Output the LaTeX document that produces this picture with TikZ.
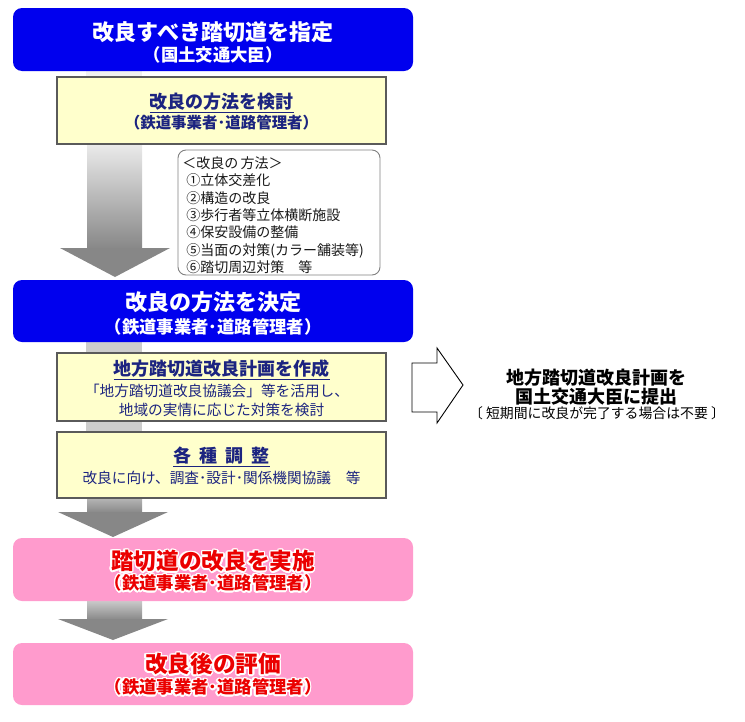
\documentclass[tikz,border=0pt]{standalone}
\usepackage{fontspec}
\setmainfont{Noto Sans CJK JP}
\usepackage{contour}
\contourlength{1.2pt}
\contournumber{16}
\newdimen\px \px=0.75pt
\definecolor{bblue}{RGB}{0,0,238}
\definecolor{yfill}{RGB}{255,255,204}
\definecolor{ybord}{RGB}{90,90,90}
\definecolor{navy}{RGB}{28,36,128}
\definecolor{pinkc}{RGB}{255,155,205}
\definecolor{redt}{RGB}{235,0,0}
\definecolor{arrgray}{RGB}{135,135,135}
\definecolor{lightbar}{RGB}{205,205,205}
\tikzset{
  bluebox/.style={fill=bblue, rounded corners=9\px, minimum width=400\px, minimum height=63\px, inner sep=0pt},
  pinkbox/.style={fill=pinkc, rounded corners=9\px, minimum width=400\px, minimum height=63\px, inner sep=0pt},
  ybox/.style={fill=yfill, draw=ybord, line width=2\px, minimum width=329\px, inner sep=0pt},
  methbox/.style={fill=white, draw=gray, line width=0.9\px, rounded corners=8\px, minimum width=202\px, minimum height=125\px, inner sep=0pt},
  wtitle/.style={text=white, font=\fontsize{16.5pt}{18pt}\selectfont\bfseries, inner sep=0pt},
  wsub/.style={text=white, font=\fontsize{13pt}{15pt}\selectfont\bfseries, inner sep=0pt},
  ytitle/.style={text=navy, font=\fontsize{13.5pt}{15pt}\selectfont\bfseries, inner sep=0pt},
  ysub/.style={text=navy, font=\fontsize{11.6pt}{13pt}\selectfont\bfseries, inner sep=0pt},
  ytxt/.style={text=navy, font=\fontsize{11pt}{13pt}\selectfont, inner sep=0pt},
  rtitle/.style={font=\fontsize{17pt}{18pt}\selectfont\bfseries, inner sep=0pt},
  rsub/.style={font=\fontsize{13pt}{15pt}\selectfont\bfseries, inner sep=0pt},
  btxt/.style={text=black, font=\fontsize{13.5pt}{15pt}\selectfont\bfseries, inner sep=0pt},
  smalltxt/.style={text=black, font=\fontsize{10.4pt}{12pt}\selectfont, inner sep=0pt},
  methtxt/.style={text=black!90, font=\fontsize{10.5pt}{13.1pt}\selectfont, align=left, inner sep=0pt, anchor=north west},
}
\newcommand{\redc}[1]{\contour{white}{\textcolor{redt}{#1}}}
\begin{document}
\begin{tikzpicture}[x=0.75pt,y=-0.75pt]
\useasboundingbox (0,0) rectangle (745,721);
% light bars between boxes
\fill[gray!12] (86,70) rectangle (142,78);
\fill[lightbar] (86,341) rectangle (142,353);
\fill[lightbar] (86,420) rectangle (142,432);
% big arrow 1
\shade[top color=gray!15, bottom color=arrgray] (87,143) rectangle (142,249);
\fill[arrgray] (60,248) -- (170,248) -- (115,277) -- cycle;
% arrow 2
\shade[top color=gray!55, bottom color=arrgray] (87,497) rectangle (142,513);
\fill[arrgray] (58,512) -- (168,512) -- (113,537) -- cycle;
% arrow 3
\shade[top color=gray!40, bottom color=arrgray] (87,600) rectangle (142,620);
\fill[arrgray] (58,619) -- (168,619) -- (113,640) -- cycle;

% box 1
\node[bluebox] (b1) at (213,39.5) {};
\node[wtitle] (b1t) at (213,32) {改良すべき踏切道を指定};
\node[wsub] (b1s) at (213,55) {（国土交通大臣）};
% box 2
\node[ybox, minimum height=67\px] (b2) at (221.5,110.5) {};
\node[ytitle] (b2t) at (221.5,103) {\underline{改良の方法を検討}};
\node[ysub] (b2s) at (221.5,123) {（鉄道事業者･道路管理者）};
% methods box
\node[methbox] (mb) at (279,212.5) {};
\node[methtxt] (mt) at (182,156) {＜改良の\,方法＞\\
\hspace{4\px}①立体交差化\\
\hspace{4\px}②構造の改良\\
\hspace{4\px}③歩行者等立体横断施設\\
\hspace{4\px}④保安設備の整備\\
\hspace{4\px}⑤当面の対策(カラー舗装等)\\
\hspace{4\px}⑥踏切周辺対策　等};
% box 3
\node[bluebox, minimum height=62\px] (b3) at (213,311) {};
\node[wtitle] (b3t) at (213,302) {改良の方法を決定};
\node[wsub] (b3s) at (213,327) {（鉄道事業者･道路管理者）};
% box 4
\node[ybox, minimum height=68\px] (b4) at (221.5,386.5) {};
\node[ytitle] (b4t) at (221.5,370) {\underline{地方踏切道改良計画を作成}};
\node[ytxt] (b4a) at (217,391) {「地方踏切道改良協議会」等を活用し、};
\node[ytxt] (b4b) at (221.5,410) {地域の実情に応じた対策を検討};
% box 5
\node[ybox, minimum height=66\px] (b5) at (221.5,464.5) {};
\node[ytitle] (b5t) at (221.5,457) {\underline{各\hspace{0.45em}種\hspace{0.45em}調\hspace{0.45em}整}};
\node[ytxt] (b5a) at (221.5,478) {改良に向け、調査･設計･関係機関協議　等};
% box 6
\node[pinkbox] (b6) at (213,569.5) {};
\node[rtitle] (b6t) at (213,562) {\redc{踏切道の改良を実施}};
\node[rsub] (b6s) at (213,584) {\redc{（鉄道事業者･道路管理者）}};
% box 7
\node[pinkbox, minimum height=62\px] (b7) at (213,674) {};
\node[rtitle] (b7t) at (213,665) {\redc{改良後の評価}};
\node[rsub] (b7s) at (213,688) {\redc{（鉄道事業者･道路管理者）}};
% hollow right arrow
\draw[fill=white, line width=0.9\px] (412,363) -- (437,363) -- (437,348) -- (463,385) -- (437,423) -- (437,412) -- (412,412) -- cycle;
\node[btxt] (r1) at (596,378) {地方踏切道改良計画を};
\node[btxt] (r2) at (596,397) {国土交通大臣に提出};
\node[smalltxt] (r3) at (597,413) {〔 短期間に改良が完了する場合は不要 〕};
\end{tikzpicture}
\end{document}
